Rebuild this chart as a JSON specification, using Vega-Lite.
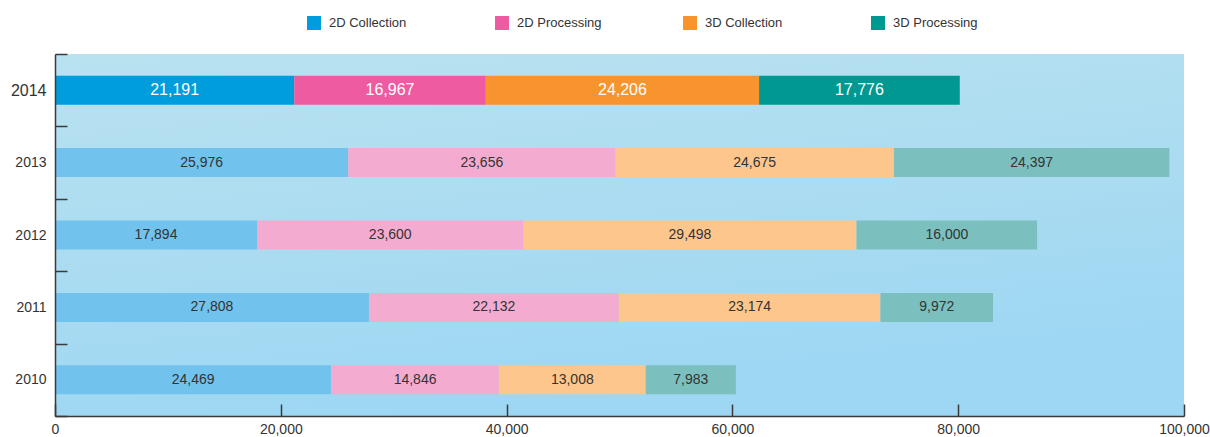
{
  "$schema": "https://vega.github.io/schema/vega-lite/v6.json",
  "autosize": {"type": "none"},
  "padding": {"left": 55, "top": 54, "right": 26, "bottom": 21},
  "width": 1129,
  "height": 362,
  "background": "#ffffff",
  "config": {
    "font": "Liberation Sans",
    "view": {"stroke": null},
    "axis": {"labelFont": "Liberation Sans", "labelColor": "#333333"}
  },
  "datasets": {
    "volumes": [
      {"year": "2014", "category": "2D Collection", "value": 21191},
      {"year": "2014", "category": "2D Processing", "value": 16967},
      {"year": "2014", "category": "3D Collection", "value": 24206},
      {"year": "2014", "category": "3D Processing", "value": 17776},
      {"year": "2013", "category": "2D Collection", "value": 25976},
      {"year": "2013", "category": "2D Processing", "value": 23656},
      {"year": "2013", "category": "3D Collection", "value": 24675},
      {"year": "2013", "category": "3D Processing", "value": 24397},
      {"year": "2012", "category": "2D Collection", "value": 17894},
      {"year": "2012", "category": "2D Processing", "value": 23600},
      {"year": "2012", "category": "3D Collection", "value": 29498},
      {"year": "2012", "category": "3D Processing", "value": 16000},
      {"year": "2011", "category": "2D Collection", "value": 27808},
      {"year": "2011", "category": "2D Processing", "value": 22132},
      {"year": "2011", "category": "3D Collection", "value": 23174},
      {"year": "2011", "category": "3D Processing", "value": 9972},
      {"year": "2010", "category": "2D Collection", "value": 24469},
      {"year": "2010", "category": "2D Processing", "value": 14846},
      {"year": "2010", "category": "3D Collection", "value": 13008},
      {"year": "2010", "category": "3D Processing", "value": 7983}
    ]
  },
  "layer": [
    {
      "data": {"values": [{}]},
      "mark": {
        "type": "rect",
        "color": {
          "gradient": "linear",
          "x1": 0, "y1": 0, "x2": 0.3, "y2": 1,
          "stops": [
            {"offset": 0, "color": "#b9e2f0"},
            {"offset": 0.5, "color": "#acdcf1"},
            {"offset": 1, "color": "#9dd7f3"}
          ]
        }
      },
      "encoding": {}
    },
    {
      "data": {"name": "volumes"},
      "transform": [
        {"stack": "value", "groupby": ["year"], "sort": [{"field": "category", "order": "ascending"}], "as": ["x0", "x1"]},
        {"filter": "datum.year == '2014'"}
      ],
      "mark": {"type": "bar", "size": 29},
      "encoding": {
        "y": {
          "field": "year", "type": "nominal", "sort": "descending",
          "scale": {"paddingInner": 0, "paddingOuter": 0},
          "axis": {
            "title": null, "labelAngle": 0, "zindex": 2,
            "domain": true, "domainColor": "#3a3a3a", "domainWidth": 1.5,
            "ticks": true, "tickBand": "extent", "tickSize": -12, "tickColor": "#3a3a3a", "tickWidth": 1.5,
            "labelPadding": 21,
            "labelFontSize": {"expr": "datum.label == '2014' ? 16 : 14"}
          }
        },
        "x": {
          "field": "x0", "type": "quantitative",
          "scale": {"domain": [0, 100000], "nice": false},
          "axis": {
            "title": null, "grid": false, "zindex": 2,
            "values": [0, 20000, 40000, 60000, 80000, 100000],
            "labelExpr": "format(datum.value, ',')", "labelFlush": false,
            "domain": true, "domainColor": "#3a3a3a", "domainWidth": 1.5,
            "ticks": true, "tickSize": -12, "tickColor": "#3a3a3a", "tickWidth": 1.5,
            "labelPadding": 18, "labelFontSize": 14
          }
        },
        "x2": {"field": "x1"},
        "color": {
          "field": "category", "type": "nominal",
          "scale": {
            "domain": ["2D Collection", "2D Processing", "3D Collection", "3D Processing"],
            "range": ["#009ddc", "#ef5ba1", "#f7942e", "#009891"]
          },
          "legend": {
            "title": null, "orient": "none", "legendX": 252, "legendY": -38,
            "direction": "horizontal", "columns": 4, "gridAlign": "all", "columnPadding": 81,
            "symbolType": "square", "symbolSize": 196, "symbolStrokeWidth": 0, "symbolOpacity": 1,
            "labelFontSize": 13, "labelFont": "Liberation Sans", "labelColor": "#333333", "labelOffset": 8
          }
        }
      }
    },
    {
      "data": {"name": "volumes"},
      "transform": [
        {"stack": "value", "groupby": ["year"], "sort": [{"field": "category", "order": "ascending"}], "as": ["x0", "x1"]},
        {"filter": "datum.year != '2014'"}
      ],
      "mark": {"type": "bar", "size": 29},
      "encoding": {
        "y": {"field": "year", "type": "nominal", "sort": "descending"},
        "x": {"field": "x0", "type": "quantitative"},
        "x2": {"field": "x1"},
        "color": {
          "field": "category", "type": "nominal",
          "scale": {
            "domain": ["2D Collection", "2D Processing", "3D Collection", "3D Processing"],
            "range": ["#71c2ec", "#f3acd0", "#fdc68c", "#7bc0be"]
          },
          "legend": null
        }
      }
    },
    {
      "data": {"name": "volumes"},
      "transform": [
        {"stack": "value", "groupby": ["year"], "sort": [{"field": "category", "order": "ascending"}], "as": ["x0", "x1"]},
        {"fold": ["x0", "x1"], "as": ["edge", "pos"]}
      ],
      "mark": {"type": "text", "align": "center", "baseline": "middle", "font": "Liberation Sans"},
      "encoding": {
        "y": {"field": "year", "type": "nominal", "sort": "descending"},
        "x": {"aggregate": "mean", "field": "pos", "type": "quantitative"},
        "detail": {"field": "category", "type": "nominal"},
        "text": {"aggregate": "max", "field": "value", "type": "quantitative", "format": ","},
        "color": {"condition": {"test": "datum.year == '2014'", "value": "#ffffff"}, "value": "#333333"},
        "size": {"condition": {"test": "datum.year == '2014'", "value": 16}, "value": 14}
      }
    }
  ],
  "resolve": {"scale": {"color": "independent"}}
}
